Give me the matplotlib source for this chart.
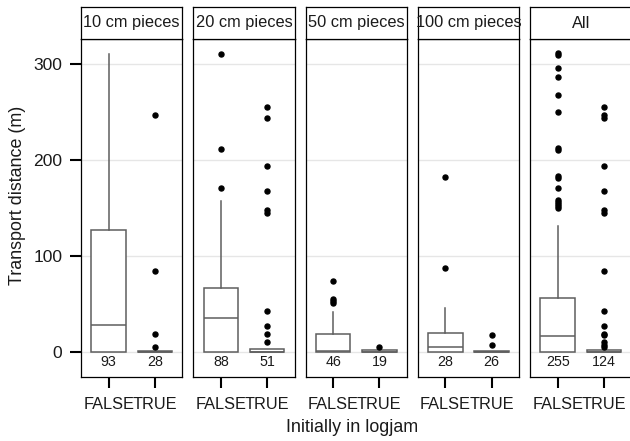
import matplotlib
matplotlib.use('Agg')
import matplotlib.pyplot as plt

plt.rcParams['font.family'] = ['Liberation Sans', 'DejaVu Sans']

# ---- data ----
panels = ["10 cm pieces", "20 cm pieces", "50 cm pieces", "100 cm pieces", "All"]
groups = ["FALSE", "TRUE"]

n_false = [93, 88, 46, 28, 255]
n_true = [28, 51, 19, 26, 124]

q1_false = [0, 0, 0, 0, 0]
med_false = [28, 36, 1, 5, 17]
q3_false = [127, 67, 19, 20, 56]
whi_false = [310, 157, 42, 46, 131]
fliers_false = [
    [],
    [310, 212, 171],
    [74, 55, 53, 51],
    [182, 88],
    [311, 309, 296, 286, 268, 250, 213, 211, 183, 181, 171, 158, 156, 154, 152, 150],
]

q1_true = [0, 0, 0, 0, 0]
med_true = [0, 0, 0, 0, 0]
q3_true = [1, 3, 2, 1, 2]
whi_true = [1, 3, 2, 1, 2]
fliers_true = [
    [247, 85, 19, 5],
    [255, 244, 194, 168, 148, 145, 43, 27, 19, 11],
    [5],
    [18, 8],
    [255, 247, 244, 194, 168, 148, 145, 85, 43, 27, 19, 18, 11, 8, 5],
]

yticks = [0, 100, 200, 300]

# ---- layout ----
W, H = 630, 441
fig = plt.figure(figsize=(W / 100, H / 100), dpi=100)
lefts = [81 + i * 112.25 for i in range(5)]
pw = 101.5
top, bottom, strip_top = 39, 377, 7
grey = '#5e5e5e'
txt = '#1a1a1a'

for i, name in enumerate(panels):
    ax = fig.add_axes([lefts[i] / W, (H - bottom) / H, pw / W, (bottom - top) / H])
    stats = [
        dict(med=med_false[i], q1=q1_false[i], q3=q3_false[i],
             whislo=q1_false[i], whishi=whi_false[i], fliers=fliers_false[i]),
        dict(med=med_true[i], q1=q1_true[i], q3=q3_true[i],
             whislo=q1_true[i], whishi=whi_true[i], fliers=fliers_true[i]),
    ]
    ax.bxp(stats, positions=[1, 2], widths=0.75, showcaps=False, patch_artist=True,
           boxprops=dict(facecolor='white', edgecolor=grey, linewidth=1.1),
           medianprops=dict(color=grey, linewidth=1.1),
           whiskerprops=dict(color=grey, linewidth=1.1),
           flierprops=dict(marker='o', markerfacecolor='black', markeredgecolor='black',
                           markersize=3.6, linestyle='none'))
    ax.set_xlim(0.4, 2.6)
    ax.set_ylim(-25.7, 326)
    ax.set_xticks([1, 2])
    ax.set_xticklabels(groups)
    ax.set_yticks(yticks)
    ax.set_axisbelow(True)
    ax.yaxis.grid(True, color='#e6e6e6', linewidth=1)
    for s in ax.spines.values():
        s.set_color('black')
        s.set_linewidth(0.9)
    ax.tick_params(axis='x', length=8, width=1.5, labelsize=11.8, pad=6.2,
                   colors='black', labelcolor=txt)
    if i == 0:
        ax.tick_params(axis='y', length=8, width=1.5, labelsize=12.6, pad=5.5,
                       colors='black', labelcolor=txt)
    else:
        ax.tick_params(axis='y', length=0, labelleft=False)
    ax.text(1, -10, str(n_false[i]), ha='center', va='center', fontsize=10.3, color=txt)
    ax.text(2, -10, str(n_true[i]), ha='center', va='center', fontsize=10.3, color=txt)

    sax = fig.add_axes([lefts[i] / W, (H - top) / H, pw / W, (top - strip_top) / H])
    sax.set_xticks([])
    sax.set_yticks([])
    sax.set_facecolor('white')
    for s in sax.spines.values():
        s.set_color('black')
        s.set_linewidth(0.9)
    sax.text(0.5, 0.5, name, ha='center', va='center', fontsize=11.8, color=txt,
             transform=sax.transAxes)

fig.text(18 / W, 1 - 195 / H, 'Transport distance (m)', rotation=90,
         ha='center', va='center', fontsize=12.9, color=txt)
fig.text(352 / W, 1 - 427 / H, 'Initially in logjam',
         ha='center', va='center', fontsize=12.9, color=txt)

fig.savefig('out.png', dpi=100, facecolor='white')
